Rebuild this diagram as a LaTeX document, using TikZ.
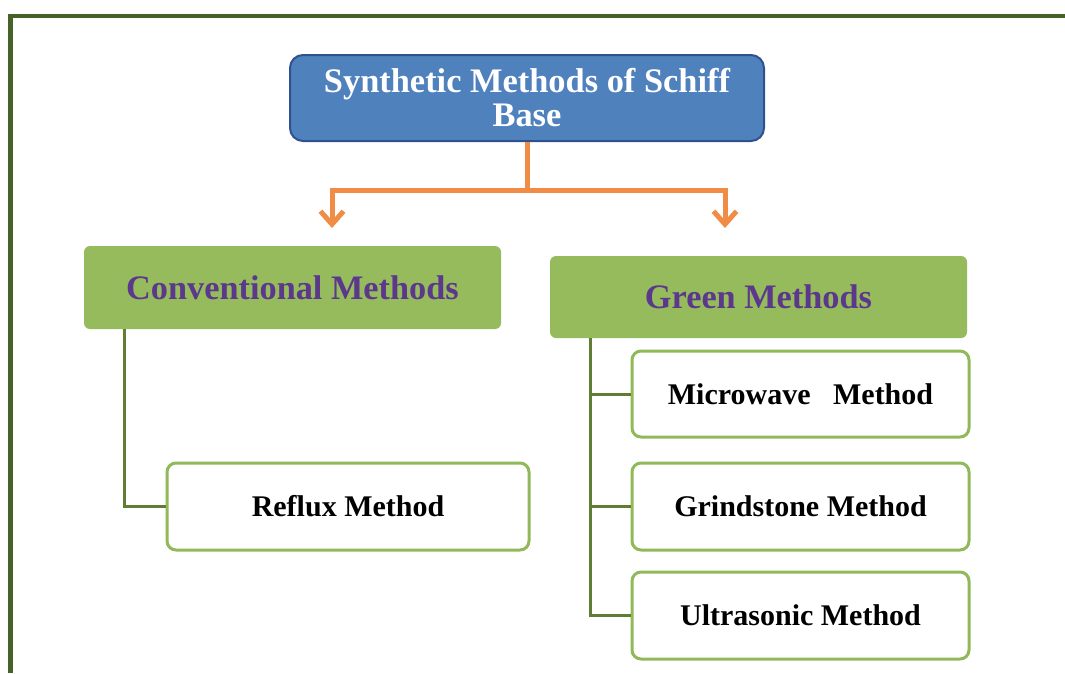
\documentclass[tikz,border=0pt]{standalone}
\usepackage{fontspec}
\setmainfont{Liberation Serif}
\usetikzlibrary{arrows.meta}
\definecolor{frame}{RGB}{70,98,40}
\definecolor{bluefill}{RGB}{79,129,189}
\definecolor{blueline}{RGB}{47,82,143}
\definecolor{greenfill}{RGB}{150,187,93}
\definecolor{greenline}{RGB}{145,185,90}
\definecolor{connect}{RGB}{95,125,52}
\definecolor{orangeline}{RGB}{240,140,70}
\definecolor{purpletext}{RGB}{92,56,140}
\tikzset{
  titlebox/.style={draw=blueline, line width=2pt, fill=bluefill, rounded corners=13pt,
    inner sep=0pt, align=center, text=white, font=\bfseries\fontsize{34.4}{34}\selectfont},
  groupbox/.style={fill=greenfill, rounded corners=6pt, inner sep=0pt,
    text=purpletext, font=\bfseries\fontsize{34.3}{36}\selectfont},
  methodbox/.style={draw=greenline, line width=3pt, fill=white, rounded corners=9pt,
    inner sep=0pt, text=black, font=\bfseries\fontsize{30}{32}\selectfont},
  orangearrow/.style={draw=orangeline, line width=5pt, line join=miter,
    -{Straight Barb[length=13pt,width=23pt]}},
  orangestem/.style={draw=orangeline, line width=5pt},
  connline/.style={draw=connect, line width=3pt, line join=miter},
}
\begin{document}
\begin{tikzpicture}[x=1pt,y=-1pt]
\useasboundingbox (0,0) rectangle (1065,673);
\fill[white] (0,0) rectangle (1065,673);
\draw[frame, line width=4.5pt] (10.5,673) -- (10.5,16) -- (1065,16);

\node[titlebox, minimum width=474pt, minimum height=86pt] (top) at (527,98)
  {Synthetic Methods of Schiff\\Base};
\node[groupbox, minimum width=417pt, minimum height=83pt] (conv) at (292.5,287.5)
  {Conventional Methods};
\node[groupbox, minimum width=417pt, minimum height=82pt] (green) at (758.5,297)
  {Green Methods};
\node[methodbox, minimum width=362pt, minimum height=87pt] (reflux) at (348,506.5)
  {Reflux Method};
\node[methodbox, minimum width=337pt, minimum height=86pt] (micro) at (800.5,394)
  {Microwave\ \ \ Method};
\node[methodbox, minimum width=337pt, minimum height=87pt] (grind) at (800.5,506.5)
  {Grindstone Method};
\node[methodbox, minimum width=337pt, minimum height=87pt] (ultra) at (800.5,615.5)
  {Ultrasonic Method};

\coordinate (j) at (527,190);
\coordinate (aL) at (332,228);
\coordinate (aR) at (725,228);
\draw[orangestem] (top.south) -- (j);
\draw[orangearrow] (j) -| (aL);
\draw[orangearrow] (j) -| (aR);

\draw[connline] ([xshift=41pt]conv.south west) |- (reflux.west);
\draw[connline] ([xshift=41pt]green.south west) |- (micro.west);
\draw[connline] ([xshift=41pt]green.south west) |- (grind.west);
\draw[connline] ([xshift=41pt]green.south west) |- (ultra.west);
\end{tikzpicture}
\end{document}
